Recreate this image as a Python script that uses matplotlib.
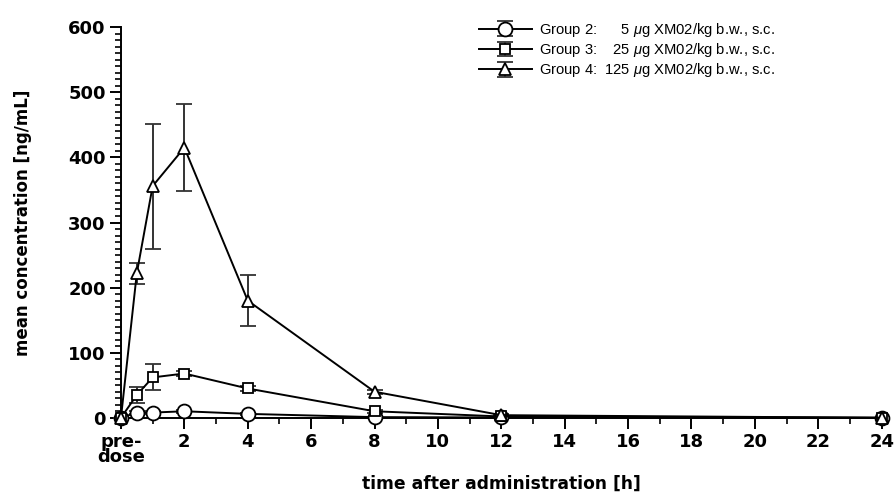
import matplotlib
matplotlib.use("Agg")
import matplotlib.pyplot as plt
from matplotlib.ticker import MultipleLocator

plt.rcParams['font.family'] = ['DejaVu Sans']
plt.rcParams['mathtext.fontset'] = 'custom'
plt.rcParams['mathtext.it'] = 'Liberation Sans:italic'
plt.rcParams['mathtext.rm'] = 'Liberation Sans'

# sampling times [h]
times = [0, 0.5, 1, 2, 4, 8, 12, 24]

g2_mean = [0, 8, 8, 10, 6, 1, 0.5, 0]
g2_err = [0, 2, 2, 2, 2, 0.5, 0, 0]

g3_mean = [0, 35, 62, 68, 45, 10, 2, 0]
g3_err = [0, 13, 20, 4, 4, 2, 1, 0]

g4_mean = [0, 222, 356, 415, 180, 40, 4, 0]
g4_err = [0, 16, 96, 67, 39, 3, 2, 0]

labels = ['Group 2:      5 $\\mu$g XM02/kg b.w., s.c.',
          'Group 3:    25 $\\mu$g XM02/kg b.w., s.c.',
          'Group 4:  125 $\\mu$g XM02/kg b.w., s.c.']

fig = plt.figure(figsize=(8.96, 4.95), dpi=100)
ax = fig.add_axes([0.135, 0.156, 0.849, 0.789])

series = [(g2_mean, g2_err, 'o', 10), (g3_mean, g3_err, 's', 7), (g4_mean, g4_err, '^', 8.5)]
for (m, e, mk, ms), lab in zip(series, labels):
    ax.errorbar(times, m, yerr=e, color='black', ecolor='#333333', lw=1.4,
                elinewidth=1.4, capsize=6, capthick=1.4, marker=mk, ms=ms,
                mfc='white', mec='black', mew=1.3, label=lab, clip_on=False, zorder=3)

ax.set_xlim(0, 24)
ax.set_ylim(0, 600)
ax.spines['top'].set_visible(False)
ax.spines['right'].set_visible(False)
ax.spines['left'].set_linewidth(1.4)
ax.spines['bottom'].set_linewidth(1.4)

ax.set_xticks(range(0, 25, 2))
ax.set_xticklabels(['pre-\ndose'] + [str(t) for t in range(2, 25, 2)])
ax.xaxis.set_minor_locator(MultipleLocator(1))
ax.yaxis.set_major_locator(MultipleLocator(100))
ax.yaxis.set_minor_locator(MultipleLocator(10))
ax.tick_params(which='major', length=8, width=1.4, labelsize=13, direction='out', pad=3)
ax.tick_params(which='minor', length=4, width=1.2, direction='out')
for t in ax.get_xticklabels() + ax.get_yticklabels():
    t.set_fontweight('bold')
ax.get_xticklabels()[0].set_linespacing(0.8)

ax.set_xlabel('time after administration [h]', fontsize=12.3, fontweight='bold', labelpad=6)
ax.set_ylabel('mean concentration [ng/mL]', fontsize=12, fontweight='bold', labelpad=26)

leg = ax.legend(loc='upper left', bbox_to_anchor=(0.453, 1.05), frameon=False,
                prop={'family': 'Liberation Sans', 'size': 10.6},
                handlelength=3.6, labelspacing=0.15, handletextpad=0.5)
# legend error bars are drawn light grey in the original
for h in leg.legend_handles:
    for child in h.get_children()[1:]:
        try:
            child.set_color('#bbbbbb')
        except AttributeError:
            pass

fig.savefig('out.png', dpi=100)
